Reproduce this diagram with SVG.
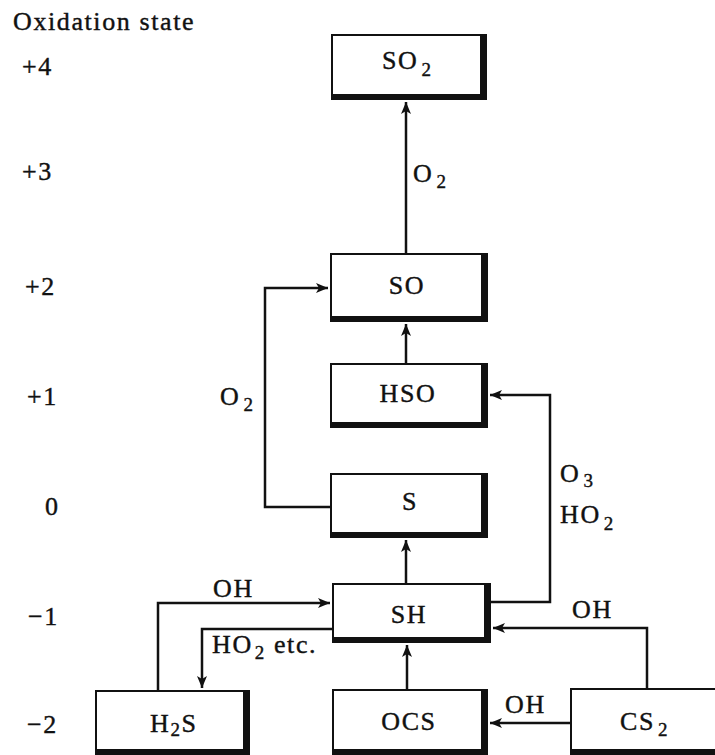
<svg xmlns="http://www.w3.org/2000/svg" width="715" height="755" viewBox="0 0 715 755">
<style>
  text { font-family: "Liberation Serif", "Times New Roman", serif; font-size: 26px; letter-spacing: 1.6px; fill: #111; stroke: #111; stroke-width: 0.4px; }
  .sub { font-size: 19px; }
  .mid { text-anchor: middle; }
  .sh { fill: #111; }
  .in { fill: #fff; }
  .ln { fill: none; stroke: #111; stroke-width: 2.5; }
</style>
<defs>
  <marker id="ah" markerUnits="userSpaceOnUse" markerWidth="14" markerHeight="12" refX="12" refY="5" orient="auto">
    <path d="M0,0 L12,5 L0,10 L3,5 z" fill="#111"/>
  </marker>
</defs>
<rect width="715" height="755" fill="#fff"/>

<g id="axis">
  <text x="13" y="30">Oxidation state</text>
  <text x="22" y="75">+4</text>
  <text x="22" y="180">+3</text>
  <text x="25" y="295">+2</text>
  <text x="27" y="405">+1</text>
  <text x="45" y="515">0</text>
  <text x="28" y="625">−1</text>
  <text x="27" y="733">−2</text>
</g>

<g id="connectors">
  <path class="ln" d="M406,253 V102" marker-end="url(#ah)"/>
  <path class="ln" d="M406,363 V324" marker-end="url(#ah)"/>
  <path class="ln" d="M330,507 H265 V288 H328" marker-end="url(#ah)"/>
  <path class="ln" d="M406,583 V540" marker-end="url(#ah)"/>
  <path class="ln" d="M491,602 H550 V395 H490" marker-end="url(#ah)"/>
  <path class="ln" d="M158,690 V603 H330" marker-end="url(#ah)"/>
  <path class="ln" d="M332,629 H202 V688" marker-end="url(#ah)"/>
  <path class="ln" d="M407,689 V645" marker-end="url(#ah)"/>
  <path class="ln" d="M647,688 V628 H493" marker-end="url(#ah)"/>
  <path class="ln" d="M570,723 H490" marker-end="url(#ah)"/>
  <text x="413" y="182">O<tspan class="sub" dx="3" dy="6">2</tspan></text>
  <text x="220" y="405">O<tspan class="sub" dx="3" dy="6">2</tspan></text>
  <text x="560" y="482">O<tspan class="sub" dx="3" dy="5">3</tspan></text>
  <text x="560" y="523">HO<tspan class="sub" dx="3" dy="7">2</tspan></text>
  <text x="213" y="597">OH</text>
  <text x="212" y="653">HO<tspan class="sub" dx="2" dy="6">2</tspan><tspan dy="-6"> etc.</tspan></text>
  <text x="572" y="618">OH</text>
  <text x="505" y="713">OH</text>
</g>

<g id="SO2">
  <rect class="sh" x="331" y="34" width="156" height="66"/>
  <rect class="in" x="333" y="36" width="147" height="58"/>
  <text x="382" y="69">SO<tspan class="sub" dx="3" dy="7">2</tspan></text>
</g>
<g id="SO">
  <rect class="sh" x="330" y="253" width="158" height="69"/>
  <rect class="in" x="332" y="255" width="149" height="61"/>
  <text class="mid" x="407" y="294">SO</text>
</g>
<g id="HSO">
  <rect class="sh" x="330" y="363" width="158" height="65"/>
  <rect class="in" x="332" y="365" width="149" height="57"/>
  <text class="mid" x="408" y="402">HSO</text>
</g>
<g id="S">
  <rect class="sh" x="330" y="473" width="158" height="65"/>
  <rect class="in" x="332" y="475" width="149" height="57"/>
  <text class="mid" x="410" y="510">S</text>
</g>
<g id="SH">
  <rect class="sh" x="332" y="583" width="159" height="60"/>
  <rect class="in" x="334" y="585" width="150" height="52"/>
  <text class="mid" x="409" y="623">SH</text>
</g>
<g id="H2S">
  <rect class="sh" x="95" y="690" width="155" height="66"/>
  <rect class="in" x="97" y="692" width="146" height="57"/>
  <text x="150" y="732">H<tspan class="sub" dy="4">2</tspan><tspan dy="-4">S</tspan></text>
</g>
<g id="OCS">
  <rect class="sh" x="332" y="689" width="156" height="67"/>
  <rect class="in" x="334" y="691" width="147" height="58"/>
  <text class="mid" x="409" y="730">OCS</text>
</g>
<g id="CS2">
  <rect class="sh" x="570" y="688" width="150" height="68"/>
  <rect class="in" x="572" y="690" width="150" height="59"/>
  <text x="620" y="730">CS<tspan class="sub" dx="3" dy="6">2</tspan></text>
</g>
</svg>
